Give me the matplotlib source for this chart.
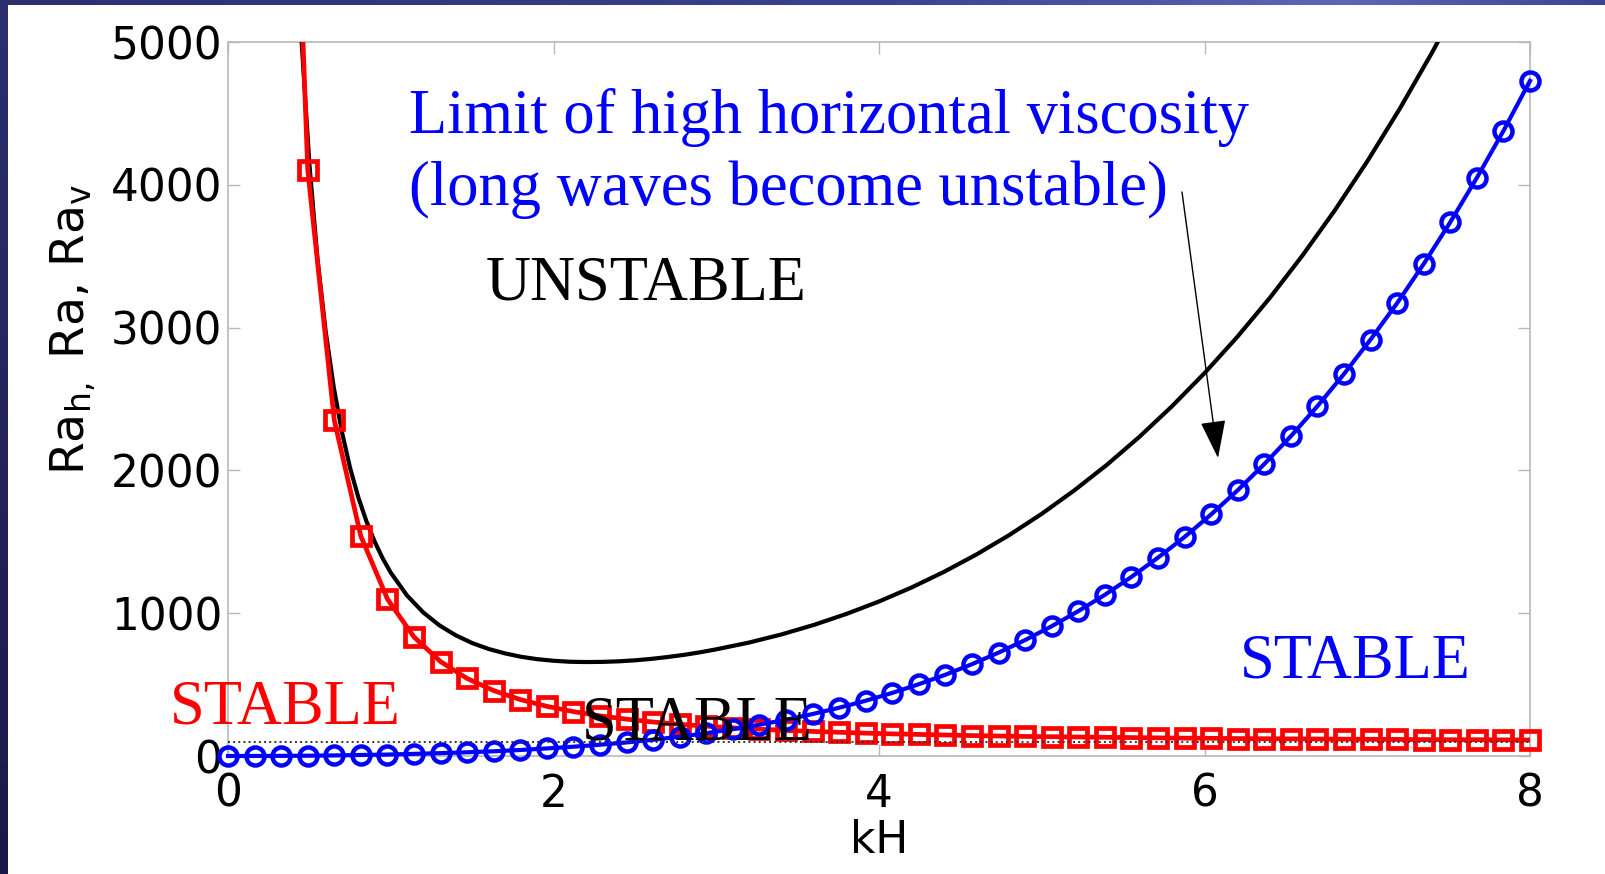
import numpy as np
import matplotlib.pyplot as plt
from matplotlib.colors import LinearSegmentedColormap

# wavenumber samples for the marked curves
kh = [0.000, 0.163, 0.327, 0.490, 0.653, 0.816, 0.980, 1.143, 1.306, 1.469,
      1.633, 1.796, 1.959, 2.122, 2.286, 2.449, 2.612, 2.776, 2.939, 3.102,
      3.265, 3.429, 3.592, 3.755, 3.918, 4.082, 4.245, 4.408, 4.571, 4.735,
      4.898, 5.061, 5.224, 5.388, 5.551, 5.714, 5.878, 6.041, 6.204, 6.367,
      6.531, 6.694, 6.857, 7.020, 7.184, 7.347, 7.510, 7.673, 7.837, 8.000]

# Ra_v (blue circles)
ra_v = [0, 0.3, 1, 2, 4, 7, 10, 15, 20, 26,
        33, 42, 53, 65, 79, 95, 114, 135, 160, 188,
        219, 254, 294, 338, 387, 442, 503, 569, 643, 724,
        812, 909, 1014, 1129, 1254, 1389, 1534, 1692, 1861, 2044,
        2240, 2450, 2675, 2916, 3172, 3446, 3738, 4048, 4378, 4728]

# Ra_h (red squares)
ra_h = [np.nan, np.nan, 9115, 4105, 2352, 1540, 1099, 833, 661, 543,
        458, 395, 348, 311, 281, 258, 238, 222, 209, 197,
        188, 179, 172, 166, 160, 155, 151, 147, 143, 140,
        137, 135, 133, 131, 129, 127, 125, 124, 122, 121,
        120, 119, 118, 117, 116, 115, 114, 114, 113, 112]

# isotropic Ra (black line)
kh_fine = [0.40, 0.45, 0.50, 0.55, 0.60, 0.65, 0.70, 0.75, 0.80, 0.85, 0.90, 0.95,
           1.0, 1.1, 1.2, 1.3, 1.4, 1.5, 1.6, 1.7, 1.8, 1.9, 2.0, 2.1, 2.2, 2.3,
           2.4, 2.5, 2.6, 2.7, 2.8, 2.9, 3.0, 3.2, 3.4, 3.6, 3.8, 4.0, 4.2, 4.4,
           4.6, 4.8, 5.0, 5.2, 5.4, 5.6, 5.8, 6.0, 6.2, 6.4, 6.6, 6.8, 7.0, 7.2,
           7.4, 7.6]
ra_iso = [6306, 5046, 4145, 3479, 2974, 2580, 2269, 2018, 1814, 1645, 1504, 1385,
          1284, 1124, 1005, 914, 845, 791, 750, 719, 695, 678, 667, 660, 658, 659,
          663, 670, 680, 693, 708, 726, 747, 794, 851, 918, 995, 1082, 1180, 1290,
          1412, 1547, 1696, 1860, 2039, 2235, 2449, 2681, 2933, 3206, 3502, 3820,
          4164, 4533, 4930, 5355]

ra_limit = 97  # dotted level

xticks = [0, 2, 4, 6, 8]
yticks = [0, 1000, 2000, 3000, 4000, 5000]

W, H = 1605, 874
plt.rcParams['mathtext.default'] = 'regular'
fig = plt.figure(figsize=(W / 100, H / 100), dpi=100)
fig.patch.set_facecolor('white')


def px(x, y):
    # pixel position measured from the top-left corner -> figure fraction
    return x / W, 1 - y / H


# slide frame strips along the top and left edges
top = fig.add_axes([0, 1 - 5 / H, 1, 5 / H])
top.axis('off')
top_cmap = LinearSegmentedColormap.from_list(
    'top', [(0, '#2b2f6f'), (0.55, '#3b4290'), (0.84, '#5e66ba'), (1, '#3c4493')])
top.imshow(np.linspace(0, 1, 256)[None, :], aspect='auto', cmap=top_cmap, extent=[0, 1, 0, 1])
left = fig.add_axes([0, 0, 8 / W, 1 - 5 / H])
left.axis('off')
left_cmap = LinearSegmentedColormap.from_list('left', ['#2b2f6f', '#1a1a48'])
left.imshow(np.linspace(0, 1, 256)[:, None], aspect='auto', cmap=left_cmap, extent=[0, 1, 0, 1])

ax = fig.add_axes([228 / W, 1 - 756 / H, (1530 - 228) / W, (756 - 42) / H])

ax.plot(kh_fine, ra_iso, color='k', lw=3.0, zorder=3)

ra_h_arr = np.array(ra_h)
inside = ra_h_arr <= 5000
ax.plot(kh, ra_h, color='red', lw=3.4, zorder=4)
ax.plot(np.array(kh)[inside], ra_h_arr[inside], ls='none', marker='s', ms=13,
        mfc='none', mec='red', mew=3.4, clip_on=False, zorder=4)

ax.plot(kh, ra_v, color='blue', lw=3.0, marker='o', ms=13, mfc='none',
        mec='blue', mew=3.2, clip_on=False, zorder=5)

ax.axhline(ra_limit, color='#333333', ls=':', lw=1.4, zorder=6)

ax.set_xlim(0, 8)
ax.set_ylim(0, 5000)
ax.set_xticks(xticks)
ax.set_yticks(yticks)

for s in ax.spines.values():
    s.set_color('#b8b8b8')
    s.set_linewidth(1.2)
ax.tick_params(direction='in', length=8.5, width=1, color='#b8b8b8',
               top=True, right=True, labelsize=31.5, labelcolor='k')
ax.tick_params(axis='x', pad=12)
ax.tick_params(axis='y', pad=4)

ax.set_xlabel('kH', fontsize=31.5)
ax.xaxis.set_label_coords(0.5, -0.088)
ax.set_ylabel('Ra$_{h,}$ Ra, Ra$_{v}$', fontsize=34)
ax.yaxis.set_label_coords(-0.1, 0.597)

serif = 'Liberation Serif'
fs = 45
fig.text(*px(409, 133), 'Limit of high horizontal viscosity', color='blue',
         fontsize=fs, family=serif, va='baseline')
fig.text(*px(409, 205), '(long waves become unstable)', color='blue',
         fontsize=fs, family=serif, va='baseline')
fig.text(*px(486, 300), 'UNSTABLE', color='k', fontsize=fs, family=serif, va='baseline')
fig.text(*px(170, 723), 'STABLE', color='red', fontsize=fs, family=serif, va='baseline')
fig.text(*px(582, 740), 'STABLE', color='k', fontsize=fs, family=serif, va='baseline')
fig.text(*px(1240, 678), 'STABLE', color='blue', fontsize=fs, family=serif, va='baseline')

ax.annotate('', xy=px(1218, 458), xytext=px(1182, 192),
            xycoords='figure fraction', textcoords='figure fraction',
            arrowprops=dict(arrowstyle='-|>,head_length=0.6,head_width=0.2',
                            mutation_scale=40, lw=1, color='k',
                            shrinkA=0, shrinkB=0))

fig.savefig('out.png', dpi=100)
